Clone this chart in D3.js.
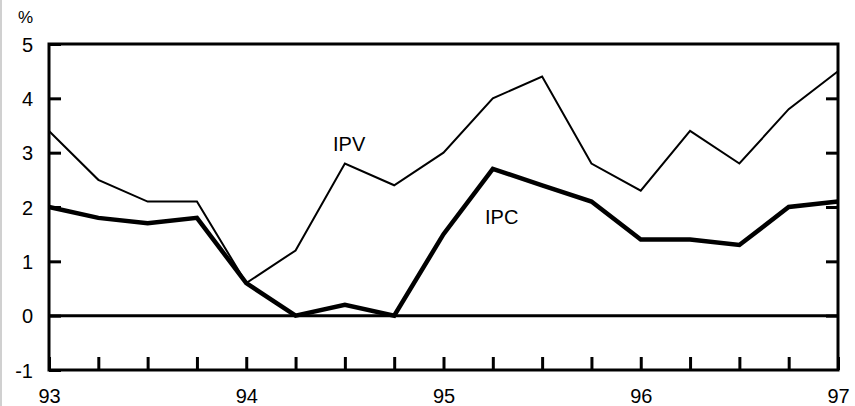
<!DOCTYPE html>
<html>
<head>
<meta charset="utf-8">
<script src="https://cdn.jsdelivr.net/npm/d3@7"></script>
<style>
  body { margin: 0; background: #fff; }
  svg { display: block; }
  svg text { font-family: Arial, "Liberation Sans", sans-serif; }
</style>
</head>
<body>
<div id="chart"></div>
<script>
// trimestres de 93 à 97
const periods = [93, 93.25, 93.5, 93.75, 94, 94.25, 94.5, 94.75, 95, 95.25, 95.5, 95.75, 96, 96.25, 96.5, 96.75, 97];
const ipv = [3.4, 2.5, 2.1, 2.1, 0.6, 1.2, 2.8, 2.4, 3.0, 4.0, 4.4, 2.8, 2.3, 3.4, 2.8, 3.8, 4.5];
const ipc = [2.0, 1.8, 1.7, 1.8, 0.6, 0.0, 0.2, 0.0, 1.5, 2.7, 2.4, 2.1, 1.4, 1.4, 1.3, 2.0, 2.1];
const yearTicks = [93, 94, 95, 96, 97];
const valueTicks = [-1, 0, 1, 2, 3, 4, 5];

const width = 855, height = 406;
const margin = { top: 44, right: 17, bottom: 36, left: 49 };

const svg = d3.select('#chart').append('svg')
  .attr('width', width)
  .attr('height', height);

// bordure grise à gauche
svg.append('line')
  .attr('x1', 1).attr('x2', 1).attr('y1', 0).attr('y2', height)
  .attr('stroke', '#d0d0d0').attr('stroke-width', 2);

const x = d3.scaleLinear().domain([93, 97]).range([margin.left, width - margin.right]);
const y = d3.scaleLinear().domain([-1, 5]).range([height - margin.bottom, margin.top]);

// ligne du zéro
svg.append('line')
  .attr('x1', x(93)).attr('x2', x(97))
  .attr('y1', y(0)).attr('y2', y(0))
  .attr('stroke', '#000').attr('stroke-width', 3);

// séries
const line = d3.line().x(d => x(d[0])).y(d => y(d[1]));
svg.append('path')
  .datum(periods.map((p, i) => [p, ipv[i]]))
  .attr('d', line).attr('fill', 'none')
  .attr('stroke', '#000').attr('stroke-width', 2);
svg.append('path')
  .datum(periods.map((p, i) => [p, ipc[i]]))
  .attr('d', line).attr('fill', 'none')
  .attr('stroke', '#000').attr('stroke-width', 4.5);

// cadre
svg.append('rect')
  .attr('x', x(93)).attr('y', y(5))
  .attr('width', x(97) - x(93)).attr('height', y(-1) - y(5))
  .attr('fill', 'none').attr('stroke', '#000').attr('stroke-width', 3);

// axes
const fs = '20px';
const left = svg.append('g').attr('transform', `translate(${x(93)},0)`)
  .call(d3.axisLeft(y).tickValues(valueTicks).tickSizeInner(-12).tickSizeOuter(0).tickPadding(16).tickFormat(d => String(d)));
const right = svg.append('g').attr('transform', `translate(${x(97)},0)`)
  .call(d3.axisRight(y).tickValues(valueTicks.slice(1, -1)).tickSizeInner(-12).tickSizeOuter(0).tickFormat(''));
const bottom = svg.append('g').attr('transform', `translate(0,${y(-1)})`)
  .call(d3.axisBottom(x).tickValues(periods).tickSizeInner(-13).tickSizeOuter(0)
    .tickFormat(d => yearTicks.includes(d) ? String(d) : ''));
[left, right, bottom].forEach(g => {
  g.attr('font-family', null).attr('font-size', null);
  g.select('.domain').remove();
  g.selectAll('.tick line').attr('stroke', '#000').attr('stroke-width', 3);
  g.selectAll('.tick text').attr('fill', '#000').style('font-size', fs);
});
left.selectAll('.tick text').attr('dy', '0.35em');
bottom.selectAll('.tick text').attr('y', 33).attr('dy', 0);

svg.append('text').attr('x', 18).attr('y', 23).text('%').style('font-size', '17px');

// étiquettes
svg.append('text').attr('x', 333).attr('y', 151).text('IPV').style('font-size', fs);
svg.append('text').attr('x', 485).attr('y', 224).text('IPC').style('font-size', fs);
</script>
</body>
</html>
